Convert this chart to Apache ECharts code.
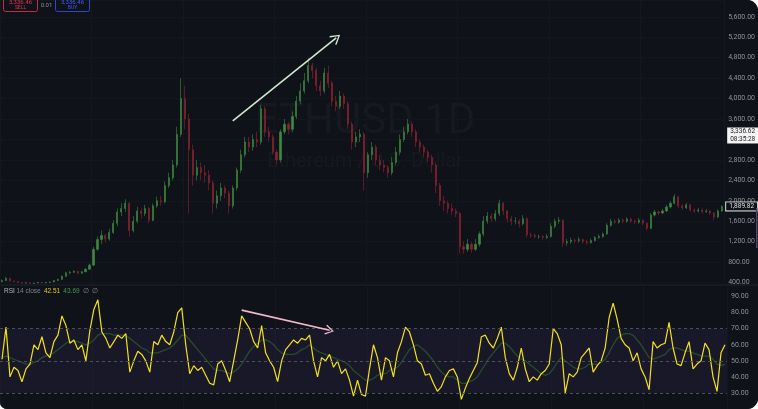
<!DOCTYPE html>
<html><head><meta charset="utf-8">
<script src="https://cdn.jsdelivr.net/npm/echarts@6/dist/echarts.min.js"></script>
<style>
html,body{margin:0;padding:0;background:#ffffff;}
#wrap{width:758px;height:409px;border-radius:0 11px 11px 7px;overflow:hidden;background:#10121a;}
#chart{width:758px;height:409px;}
</style></head><body><div id="wrap"><div id="chart"></div></div>
<script>
// candles: [open, close, low, high]
const ohlc = [
[420,440,400,460],[440,480,430,510],[480,430,420,490],[430,420,405,440],[420,400,390,425],
[400,390,380,410],[390,395,380,405],[395,380,372,400],[380,390,375,398],[390,400,382,410],
[400,390,380,405],[390,400,385,410],[400,410,392,420],[410,440,405,450],[440,460,430,475],
[460,520,455,540],[520,590,510,610],[590,600,560,625],[600,620,585,640],[620,580,565,630],
[580,610,570,625],[610,660,600,680],[660,740,650,770],[740,1050,730,1100],[1050,1240,1020,1300],
[1240,1320,1150,1420],[1320,1250,1180,1350],[1250,1380,1220,1450],[1380,1560,1350,1620],[1560,1780,1500,1850],
[1780,1850,1700,1950],[1850,1950,1780,2030],[1950,1420,1300,1980],[1420,1600,1380,1700],[1600,1800,1560,1880],
[1800,1750,1650,1850],[1750,1850,1700,1920],[1850,1620,1560,1880],[1620,1900,1600,1950],[1900,2000,1860,2080],
[2000,1980,1900,2100],[1980,2300,1950,2380],[2300,2450,2250,2550],[2450,2700,2400,2800],[2700,3300,2650,3450],
[3300,4000,3250,4400],[4000,3600,3400,4250],[3600,3000,1750,3700],[3000,2500,2300,3100],[2500,2650,2400,2800],
[2650,2550,2400,2750],[2550,2500,2350,2700],[2500,2350,2200,2600],[2350,1950,1750,2400],[1950,2100,1850,2200],
[2100,2250,2000,2350],[2250,2150,2050,2300],[2150,1900,1750,2200],[1900,2250,1850,2300],[2250,2600,2200,2650],
[2600,2900,2550,3000],[2900,3150,2850,3250],[3150,3050,2950,3250],[3050,3200,2980,3300],[3200,3150,3050,3350],
[3150,3800,3100,3880],[3800,3350,3250,3850],[3350,3250,3150,3450],[3250,2950,2900,3300],[2950,2800,2700,3000],
[2800,3350,2750,3400],[3350,3500,3300,3600],[3500,3400,3300,3550],[3400,3650,3350,3750],[3650,3950,3600,4050],
[3950,4150,3900,4300],[4150,4350,4100,4500],[4350,4650,4300,4800],[4650,4550,4400,4700],[4550,4250,4150,4600],
[4250,4150,4050,4350],[4150,4500,4100,4600],[4500,4300,4200,4650],[4300,3950,3850,4350],[3950,3850,3750,4050],
[3850,4050,3800,4150],[4050,3900,3800,4100],[3900,3500,3400,3950],[3500,3150,3000,3550],[3150,3250,3050,3350],
[3250,3300,3150,3400],[3300,2550,2200,3350],[2550,2900,2450,2950],[2900,3050,2800,3150],[3050,2800,2700,3100],
[2800,2700,2600,2900],[2700,2650,2550,2800],[2650,2550,2450,2700],[2550,2750,2500,2850],[2750,2950,2700,3050],
[2950,3200,2900,3300],[3200,3350,3150,3450],[3350,3500,3300,3600],[3500,3350,3250,3550],[3350,3150,3050,3400],
[3150,3050,2950,3200],[3050,2950,2850,3100],[2950,2850,2750,3000],[2850,2700,2550,2900],[2700,2300,2150,2750],
[2300,2000,1900,2350],[2000,1950,1800,2100],[1950,1850,1750,2000],[1850,1800,1720,1950],[1800,1750,1680,1850],
[1750,1100,970,1780],[1100,1050,960,1200],[1050,1150,1000,1250],[1150,1050,980,1200],[1050,1150,1020,1250],
[1150,1350,1100,1400],[1350,1600,1300,1700],[1600,1700,1550,1780],[1700,1650,1580,1750],[1650,1750,1600,1820],
[1750,1950,1700,2020],[1950,1800,1720,1980],[1800,1650,1580,1820],[1650,1600,1520,1700],[1600,1600,1540,1680],
[1600,1550,1480,1640],[1550,1650,1520,1720],[1650,1330,1280,1680],[1330,1320,1270,1380],[1320,1300,1260,1360],
[1300,1300,1250,1340],[1300,1280,1230,1330],[1280,1300,1250,1350],[1300,1500,1280,1560],[1500,1600,1460,1650],
[1600,1620,1550,1680],[1620,1180,1100,1640],[1180,1200,1120,1250],[1200,1230,1160,1280],[1230,1220,1170,1260],
[1220,1240,1180,1290],[1240,1200,1160,1260],[1200,1180,1140,1230],[1180,1220,1160,1260],[1220,1280,1200,1310],
[1280,1300,1250,1340],[1300,1350,1270,1380],[1350,1520,1330,1560],[1520,1600,1490,1650],[1600,1580,1540,1640],
[1580,1620,1550,1660],[1620,1600,1560,1660],[1600,1640,1570,1680],[1640,1600,1560,1670],[1600,1580,1540,1630],
[1580,1620,1550,1660],[1620,1560,1520,1640],[1560,1460,1420,1580],[1460,1720,1440,1760],[1720,1780,1690,1820],
[1780,1760,1720,1810],[1760,1800,1740,1840],[1800,1880,1780,1920],[1880,1950,1850,1990],[1950,2080,1930,2130],
[2080,1900,1860,2100],[1900,1860,1820,1940],[1860,1920,1840,1960],[1920,1820,1790,1940],[1820,1800,1760,1850],
[1800,1820,1770,1860],[1820,1790,1750,1850],[1790,1800,1760,1840],[1800,1760,1720,1820],[1760,1680,1620,1780],
[1680,1800,1660,1830],[1800,1890,1780,1910]
];
const rsi = [
51,71,40,46,44,37,45,48,60,57,65,55,52,62,66,78,72,61,63,57,
60,50,69,82,88,68,64,58,62,66,64,67,43,50,56,54,50,43,62,60,
66,62,60,68,80,83,60,42,47,44,46,41,36,35,48,50,44,37,50,63,
78,74,70,62,58,72,55,50,46,37,50,57,60,63,61,64,63,66,50,40,
52,50,54,46,50,42,45,38,28,38,29,28,45,60,52,38,52,50,40,55,
62,71,68,60,50,48,41,42,36,31,34,40,44,45,40,26,33,39,44,49,
65,66,61,58,64,71,52,42,38,46,58,45,37,40,38,42,44,48,70,67,
60,30,42,40,43,52,55,58,43,47,50,58,77,86,76,64,60,58,50,55,
45,40,32,62,58,60,61,74,58,48,47,55,62,45,48,50,61,57,40,31,
55,60
];
const rsiMA = [
52,53,52,51,50,49,48,48,49,50,52,
53,54,55,57,59,61,62,62,62,61,
60,61,63,66,67,67,67,66,66,66,66,
64,62,60,58,57,55,55,55,56,57,58,
60,63,66,66,63,60,57,54,51,48,45,
44,44,43,42,43,45,48,52,56,59,61,
63,63,62,60,57,55,54,54,54,55,57,
58,60,58,56,55,54,53,52,51,50,49,
47,44,42,40,38,38,39,41,42,42,44,
45,46,49,53,57,59,60,58,56,53,50,
46,43,41,40,40,38,36,36,37,38,40,
44,48,52,55,58,61,61,59,56,53,51,
50,48,46,44,42,41,42,45,49,52,50,
48,46,45,45,46,48,48,48,49,51,55,
60,64,66,67,67,66,63,60,56,52,51,
52,53,54,57,58,58,57,56,56,55,54,
53,53,53,51,48,47,48
];
const categories = ohlc.map((_, i) => 'd' + i);
const priceTicks = [400,800,1200,1600,2000,2400,2800,3200,3600,4000,4400,4800,5200,5600];
const rsiTicks = [30,40,50,60,70,80,90];
const rsiLevels = [70,50,30];
const priceTagLive = 3336.62;
const priceTagTime = '08:35:28';
const priceTagLast = 1889.82;
const orderPrice = '3,336.46';
const orderQty = '0.01';
const rsiLegendValue = '42.51';
const rsiMALegendValue = '43.69';
const priceArrow = [[58, 3563], [84, 5188]];
const rsiArrow = [[60, 81.6], [82, 69]];

const fmt = v => v.toLocaleString('en-US', {minimumFractionDigits: 2, maximumFractionDigits: 2});
const chevron = 'path://M5,0 L10,8.5 L9,9.5 L5,2.2 L1,9.5 L0,8.5 Z';
const axisFont = {fontSize: 7, color: '#8e919a', fontFamily: 'Roboto, "Noto Sans", sans-serif', margin: 4};

const chart = echarts.init(document.getElementById('chart'), null, {renderer: 'canvas'});
chart.setOption({
  backgroundColor: '#10121a',
  animation: false,
  grid: [
    {left: 0, right: 31, top: 0, height: 282.5},
    {left: 0, right: 31, top: 287, height: 126.7}
  ],
  xAxis: [
    {type: 'category', data: categories, gridIndex: 0, boundaryGap: true,
     axisLine: {show: false}, axisTick: {show: false}, axisLabel: {show: false},
     splitLine: {show: true, interval: 22, lineStyle: {color: '#14171f', width: 1}}},
    {type: 'category', data: categories, gridIndex: 1, boundaryGap: true,
     axisLine: {show: false}, axisTick: {show: false}, axisLabel: {show: false},
     splitLine: {show: true, interval: 22, lineStyle: {color: '#14171f', width: 1}}}
  ],
  yAxis: [
    {type: 'value', gridIndex: 0, position: 'right', min: 400, max: 5930, interval: 400,
     axisLine: {show: false}, axisTick: {show: false},
     axisLabel: Object.assign({}, axisFont, {formatter: v => priceTicks.includes(v) ? fmt(v) : ''}),
     splitLine: {show: true, lineStyle: {color: '#13161e', width: 1}}},
    {type: 'value', gridIndex: 1, position: 'right', min: 20, max: 96, interval: 10,
     axisLine: {show: false}, axisTick: {show: false},
     axisLabel: Object.assign({}, axisFont, {formatter: v => rsiTicks.includes(v) ? fmt(v) : ''}),
     splitLine: {show: false}}
  ],
  series: [
    {
      type: 'candlestick', xAxisIndex: 0, yAxisIndex: 0, data: ohlc, clip: false,
      barWidth: 1.6,
      itemStyle: {color: '#3c8a3f', color0: '#8e2133', borderColor: '#3c8a3f', borderColor0: '#8e2133', borderWidth: 0.6},
      markLine: {
        silent: true, symbol: ['none', 'none'], animation: false,
        data: [
          {yAxis: priceTagLive, lineStyle: {width: 0, color: 'rgba(0,0,0,0)'},
           label: {show: true, position: 'end', distance: 3, formatter: fmt(priceTagLive) + '\n' + priceTagTime,
             backgroundColor: '#f4f4f4', color: '#1b1d24', fontSize: 6.5, lineHeight: 7.5, padding: [1, 3, 0, 3],
             fontFamily: 'Roboto, sans-serif', offset: [0, 3]}},
          {yAxis: priceTagLast, lineStyle: {width: 0, color: 'rgba(0,0,0,0)'},
           label: {show: true, position: 'end', distance: 2, formatter: fmt(priceTagLast),
             backgroundColor: '#10121a', borderColor: '#d8d8d8', borderWidth: 1, color: '#e0e0e0', fontSize: 6.5,
             padding: [1, 3, 0, 3], fontFamily: 'Roboto, sans-serif'}},
          [
            {coord: priceArrow[0], symbol: 'none', lineStyle: {color: '#cfe8cf', width: 1.6, type: 'solid'}, label: {show: false}},
            {coord: priceArrow[1], symbol: chevron, symbolSize: [11, 10]}
          ]
        ]
      }
    },
    {
      type: 'line', xAxisIndex: 1, yAxisIndex: 1, data: rsiMA, symbol: 'none', z: 2,
      lineStyle: {color: '#284a2e', width: 1.3}
    },
    {
      type: 'line', xAxisIndex: 1, yAxisIndex: 1, data: rsi, symbol: 'none', z: 3,
      lineStyle: {color: '#f3e21b', width: 1.2},
      markArea: {silent: true, itemStyle: {color: 'rgba(120,90,200,0.09)'}, data: [[{yAxis: rsiLevels[0]}, {yAxis: rsiLevels[2]}]]},
      markLine: {
        silent: true, symbol: ['none', 'none'], animation: false,
        data: [
          ...rsiLevels.map(v => ({yAxis: v, lineStyle: {color: '#4b4e5c', type: [3, 3], width: 1}, label: {show: false}})),
          [
            {coord: rsiArrow[0], symbol: 'none', lineStyle: {color: '#f2b8cb', width: 1.6, type: 'solid'}, label: {show: false}},
            {coord: rsiArrow[1], symbol: chevron, symbolSize: [10, 9]}
          ]
        ]
      }
    }
  ],
  graphic: [
    {type: 'text', z: 0, silent: true, style: {text: 'ETHUSD 1D', x: 365, y: 122, align: 'center', verticalAlign: 'middle',
      fontSize: 42, fontFamily: 'Roboto, "Noto Sans", sans-serif', fill: 'rgba(255,255,255,0.03)'}},
    {type: 'text', z: 0, silent: true, style: {text: 'Ethereum / U.S. Dollar', x: 365, y: 162, align: 'center', verticalAlign: 'middle',
      fontSize: 20, fontFamily: 'Roboto, "Noto Sans", sans-serif', fill: 'rgba(255,255,255,0.03)'}},
    {type: 'rect', z: 1, silent: true, shape: {x: 0, y: 284.5, width: 758, height: 1}, style: {fill: '#22252f'}},
    {type: 'rect', z: 10, silent: true, shape: {x: 3.5, y: -4, width: 34, height: 15.5, r: 2}, style: {fill: 'rgba(0,0,0,0)', stroke: '#c42a40', lineWidth: 1}},
    {type: 'text', z: 10, silent: true, style: {text: orderPrice, x: 20.5, y: 2, align: 'center', verticalAlign: 'middle', fontSize: 6, fill: '#e0344c', fontFamily: 'Roboto, sans-serif'}},
    {type: 'text', z: 10, silent: true, style: {text: 'SELL', x: 20.5, y: 8, align: 'center', verticalAlign: 'middle', fontSize: 5, fill: '#e0344c', fontFamily: 'Roboto, sans-serif'}},
    {type: 'text', z: 10, silent: true, style: {text: orderQty, x: 46.5, y: 5, align: 'center', verticalAlign: 'middle', fontSize: 6, fill: '#8a8d96', fontFamily: 'Roboto, sans-serif'}},
    {type: 'rect', z: 10, silent: true, shape: {x: 55.5, y: -4, width: 34, height: 15.5, r: 2}, style: {fill: 'rgba(0,0,0,0)', stroke: '#2d47c8', lineWidth: 1}},
    {type: 'text', z: 10, silent: true, style: {text: orderPrice, x: 72.5, y: 2, align: 'center', verticalAlign: 'middle', fontSize: 6, fill: '#3f5cf2', fontFamily: 'Roboto, sans-serif'}},
    {type: 'text', z: 10, silent: true, style: {text: 'BUY', x: 72.5, y: 8, align: 'center', verticalAlign: 'middle', fontSize: 5, fill: '#3f5cf2', fontFamily: 'Roboto, sans-serif'}},
    {type: 'text', z: 10, silent: true, style: {
      x: 4, y: 291, verticalAlign: 'middle', fontSize: 6.5, fontFamily: 'Roboto, sans-serif',
      text: '{a|RSI} {b|14 close}  {c|' + rsiLegendValue + '}  {d|' + rsiMALegendValue + '}  {b|\u2205  \u2205}',
      rich: {a: {fill: '#b2b5be', fontSize: 6.5}, b: {fill: '#7d808a', fontSize: 6.5}, c: {fill: '#d9c81e', fontSize: 6.5}, d: {fill: '#3f9a45', fontSize: 6.5}}
    }},
    {type: 'rect', z: 10, silent: true, shape: {x: 756, y: 208, width: 1.5, height: 40}, style: {fill: '#4f4366'}}
  ]
});
</script></body></html>
